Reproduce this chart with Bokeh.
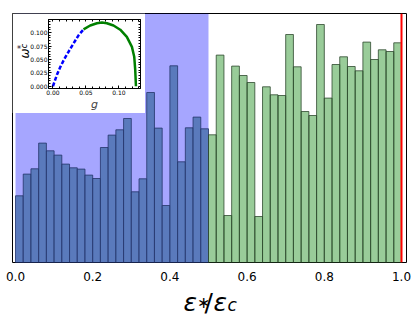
import numpy as np
from bokeh.plotting import figure
from bokeh.models import (Range1d, BoxAnnotation, Span, Label, LinearAxis,
                          FixedTicker, PrintfTickFormatter, ColumnDataSource)
from bokeh.embed import file_html
from bokeh.resources import INLINE

# ---------------- data ----------------
bin_width = 0.02
blue_counts = [66.7, 88.4, 93.7, 119.4, 111.7, 107.4, 98.4, 94.7, 93.4, 87.4,
               84.0, 115.0, 127.4, 132.7, 144.0, 70.7, 83.7, 170.0, 134.4, 57.0,
               196.7, 100.7, 134.7, 145.4, 133.7]
green_counts = [127.7, 207.4, 47.0, 196.4, 187.0, 180.0, 46.0, 175.7, 167.7, 167.0,
                228.0, 195.7, 151.0, 147.0, 238.0, 164.4, 198.0, 205.7, 196.0, 191.7,
                220.4, 203.0, 212.7, 211.0, 219.7]
x_ticks = [0.0, 0.2, 0.4, 0.6, 0.8, 1.0]
shade_left, shade_right = 0.0, 0.5
critical_x = 1.0

# inset curve omega_c^*(g)
g_blue = [0.0, 0.0061, 0.0111, 0.0171, 0.0236, 0.0312, 0.0388, 0.0464]
w_blue = [0.0, 0.0215, 0.0357, 0.0504, 0.0643, 0.0798, 0.0950, 0.1060]
g_green = [0.0464, 0.0565, 0.0667, 0.0742, 0.0818, 0.0918, 0.1020, 0.1120,
           0.1197, 0.1232, 0.1247, 0.1258]
w_green = [0.1060, 0.1134, 0.1176, 0.1190, 0.1176, 0.1134, 0.1055, 0.0920,
           0.0735, 0.0551, 0.0307, 0.0]
inset_x_ticks = [0.0, 0.05, 0.10]
inset_y_ticks = [0.0, 0.025, 0.05, 0.075, 0.10]
inset_x_all_ticks = [round(0.01 * i, 3) for i in range(0, 14)]
inset_y_all_ticks = [round(0.005 * i, 3) for i in range(0, 25)]

# ---------------- main histogram ----------------
n_blue = len(blue_counts)
n_green = len(green_counts)
edges = np.arange(n_blue + n_green + 1) * bin_width
blue_src = ColumnDataSource(dict(left=edges[:n_blue], right=edges[1:n_blue + 1], top=blue_counts))
green_src = ColumnDataSource(dict(left=edges[n_blue:-1], right=edges[n_blue + 1:], top=green_counts))

p = figure(width=416, height=316, output_backend="svg", toolbar_location=None,
           x_range=Range1d(-0.00777, 1.01295), y_range=Range1d(0, 249),
           y_axis_type=None,
           min_border_left=12, min_border_right=10, min_border_top=13, min_border_bottom=54,
           background_fill_color="white", border_fill_color="white")
p.grid.grid_line_color = None
p.outline_line_color = "black"
p.outline_line_width = 1

p.add_layout(BoxAnnotation(left=shade_left, right=shade_right, fill_color="blue",
                           fill_alpha=0.35, line_color=None, level="underlay"))

p.quad(left="left", right="right", bottom=0, top="top", source=blue_src,
       fill_color="#4C72B0", fill_alpha=0.85, line_color="#24346a", line_alpha=0.8, line_width=1)
p.quad(left="left", right="right", bottom=0, top="top", source=green_src,
       fill_color="green", fill_alpha=0.4, line_color="#2f4a2f", line_alpha=0.8, line_width=1)

p.add_layout(Span(location=critical_x, dimension="height", line_color="red", line_width=2))

xa = p.xaxis[0]
xa.ticker = FixedTicker(ticks=x_ticks)
xa.formatter = PrintfTickFormatter(format="%.1f")
xa.axis_line_color = None
xa.major_tick_line_color = None
xa.minor_tick_line_color = None
xa.major_label_standoff = 3
xa.major_label_text_font = "DejaVu Sans"
xa.major_label_text_font_size = "12px"
xa.major_label_text_color = "black"

# ---------------- x-axis label (own transparent canvas, page-pixel coords) ----------------
xl = figure(width=100, height=48, output_backend="svg", toolbar_location=None,
            x_range=Range1d(160, 260), y_range=Range1d(316, 268),
            x_axis_type=None, y_axis_type=None,
            min_border=0, min_border_left=0, min_border_right=0, min_border_top=0, min_border_bottom=0,
            background_fill_color=None, border_fill_color=None, outline_line_color=None)
xl.grid.grid_line_color = None
for txt, px, base, size, style in [("ε", 183, 301.7, "25px", "italic"),
                                   ("∗", 196.5, 301.5, "16px", "normal"),
                                   ("/", 204, 301.7, "25px", "normal"),
                                   ("ε", 213, 301.7, "25px", "italic"),
                                   ("c", 227, 304.0, "17px", "italic")]:
    xl.add_layout(Label(x=px, y=base, text=txt, text_font="DejaVu Sans",
                        text_font_style=style, text_font_size=size,
                        text_align="left", text_baseline="alphabetic", text_color="black"))
xl.styles = {"position": "absolute", "left": "160px", "top": "268px", "z-index": "6"}

# ---------------- inset ----------------
ins = figure(width=133, height=100, output_backend="svg", toolbar_location=None,
             x_range=Range1d(-0.0067, 0.1327), y_range=Range1d(-0.0042, 0.1245),
             min_border_left=36, min_border_right=5, min_border_top=6, min_border_bottom=24,
             background_fill_color="white", border_fill_color="white")
ins.grid.grid_line_color = None
ins.outline_line_color = "black"
ins.outline_line_width = 1

ins.line(g_blue, w_blue, line_color="blue", line_width=2.5, line_dash="4 2")
ins.line(g_green, w_green, line_color="green", line_width=2.5)

def style_axis(ax):
    ax.major_tick_in = 3
    ax.major_tick_out = 0
    ax.minor_tick_in = 2
    ax.minor_tick_out = 0
    ax.axis_line_color = "black"
    ax.major_tick_line_color = "black"
    ax.minor_tick_line_color = "black"
    ax.major_label_text_font = "DejaVu Sans"
    ax.major_label_text_font_size = "6px"
    ax.major_label_text_color = "black"

ixa = ins.xaxis[0]
ixa.ticker = FixedTicker(ticks=inset_x_ticks, minor_ticks=inset_x_all_ticks)
ixa.formatter = PrintfTickFormatter(format="%.2f")
style_axis(ixa)
ixa.major_label_standoff = 1
ixa.axis_label = "g"
ixa.axis_label_text_font = "DejaVu Sans"
ixa.axis_label_text_font_style = "italic"
ixa.axis_label_text_font_size = "11px"
ixa.axis_label_standoff = 0

iya = ins.yaxis[0]
iya.ticker = FixedTicker(ticks=inset_y_ticks, minor_ticks=inset_y_all_ticks)
iya.formatter = PrintfTickFormatter(format="%.3f")
style_axis(iya)
iya.major_label_standoff = 1

top_ax = LinearAxis(ticker=FixedTicker(ticks=[], minor_ticks=inset_x_all_ticks))
style_axis(top_ax)
top_ax.major_label_standoff = 0
ins.add_layout(top_ax, "above")
right_ax = LinearAxis(ticker=FixedTicker(ticks=[], minor_ticks=inset_y_all_ticks))
style_axis(right_ax)
right_ax.major_label_standoff = 0
ins.add_layout(right_ax, "right")

ins.styles = {"position": "absolute", "left": "12px", "top": "13px", "z-index": "5"}

# inset y label  omega_c^*  (own transparent canvas, page-pixel coords)
yl = figure(width=20, height=30, output_backend="svg", toolbar_location=None,
            x_range=Range1d(12, 32), y_range=Range1d(66, 36),
            x_axis_type=None, y_axis_type=None,
            min_border=0, min_border_left=0, min_border_right=0, min_border_top=0, min_border_bottom=0,
            background_fill_color=None, border_fill_color=None, outline_line_color=None)
yl.grid.grid_line_color = None
yl.add_layout(Label(x=24.5, y=53, text="ω", angle=np.pi / 2,
                    text_font="DejaVu Sans", text_font_style="italic", text_font_size="12px",
                    text_align="center", text_baseline="alphabetic", text_color="black"))
yl.add_layout(Label(x=20.5, y=46.5, text="*", angle=np.pi / 2,
                    text_font="DejaVu Sans", text_font_size="8px",
                    text_align="center", text_baseline="middle", text_color="black"))
yl.add_layout(Label(x=24.0, y=45.5, text="c", angle=np.pi / 2,
                    text_font="DejaVu Sans", text_font_style="italic", text_font_size="8px",
                    text_align="center", text_baseline="middle", text_color="black"))
yl.styles = {"position": "absolute", "left": "12px", "top": "36px", "z-index": "7"}

open("out.html", "w").write(file_html([p, ins, xl, yl], INLINE))
